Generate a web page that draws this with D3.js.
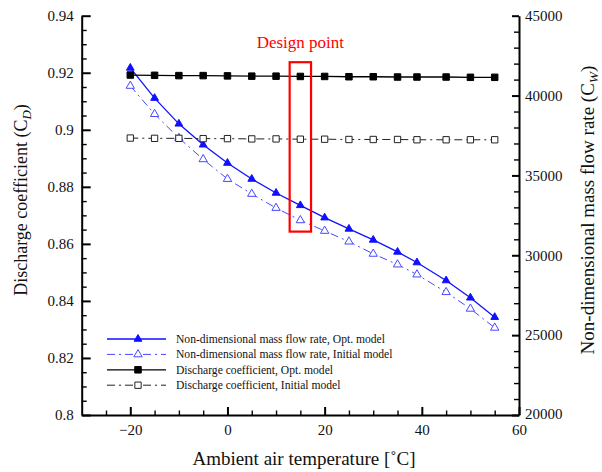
<!DOCTYPE html>
<html>
<head>
<meta charset="utf-8">
<script src="https://cdn.jsdelivr.net/npm/d3@7"></script>
<style>
  body { margin: 0; background: #fff; }
  svg text { font-family: "Liberation Serif", "Tinos", "Times New Roman", "DejaVu Serif", serif; }
</style>
</head>
<body>
<script>
const width = 602;
const height = 472;
const marginTop = 15.7;
const marginRight = 83;
const marginBottom = 57;
const marginLeft = 81.7;
const serif = "'Liberation Serif', 'Tinos', 'Times New Roman', 'DejaVu Serif', serif";

// data
const temps = [-20, -15, -10, -5, 0, 5, 10, 15, 20, 25, 30, 35, 39, 45, 50, 55];
const cdOpt = [0.9192, 0.9191, 0.9190, 0.9190, 0.9189, 0.9188, 0.9188, 0.9187, 0.9187, 0.9186, 0.9186, 0.9185, 0.9185, 0.9185, 0.9184, 0.9184];
const cdInit = [0.8971, 0.8970, 0.8970, 0.8969, 0.8969, 0.8968, 0.8968, 0.8967, 0.8967, 0.8966, 0.8966, 0.8966, 0.8965, 0.8965, 0.8965, 0.8965];
const cwOpt = [41730, 39840, 38230, 36920, 35775, 34775, 33900, 33125, 32355, 31650, 30960, 30210, 29545, 28420, 27340, 26125];
const cwInit = [40605, 38840, 37340, 36010, 34775, 33840, 32960, 32190, 31525, 30855, 30090, 29420, 28795, 27690, 26650, 25460];

const xTicks = [-20, 0, 20, 40, 60];
const cdTicks = [0.8, 0.82, 0.84, 0.86, 0.88, 0.9, 0.92, 0.94];
const cwTicks = [20000, 25000, 30000, 35000, 40000, 45000];

const legendLabels = [
  "Non-dimensional mass flow rate, Opt. model",
  "Non-dimensional mass flow rate, Initial model",
  "Discharge coefficient, Opt. model",
  "Discharge coefficient, Initial model"
];

// design point box in data units
const designBox = {x0: 12.8, x1: 17.2, y0: 0.8643, y1: 0.9237};

const x = d3.scaleLinear().domain([-30, 60]).range([marginLeft, width - marginRight]);
const yL = d3.scaleLinear().domain([0.8, 0.94]).range([height - marginBottom, marginTop]);
const yR = d3.scaleLinear().domain([20000, 45000]).range([height - marginBottom, marginTop]);

const svg = d3.select("body").append("svg")
    .attr("width", width)
    .attr("height", height)
    .attr("font-family", serif);

const dashInit = "8,4,2,4";

const series = [
  {vals: cwOpt, y: yR, color: "#1010ff", dash: null, sym: d3.symbolTriangle, filled: true, size: 26, lw: 1.3},
  {vals: cwInit, y: yR, color: "#4848ff", dash: dashInit, sym: d3.symbolTriangle, filled: false, size: 30, lw: 1},
  {vals: cdOpt, y: yL, color: "#000", dash: null, sym: d3.symbolSquare, filled: true, size: 42, lw: 1.3},
  {vals: cdInit, y: yL, color: "#222", dash: dashInit, sym: d3.symbolSquare, filled: false, size: 40, lw: 1}
];

// axes
const fontTick = 15;

const xAxis = svg.append("g")
    .attr("transform", `translate(0,${height - marginBottom})`)
    .call(d3.axisBottom(x).tickValues(xTicks).tickSizeInner(-8).tickSizeOuter(0).tickPadding(6).tickFormat(d3.format("d")));
svg.append("g")
    .attr("transform", `translate(0,${height - marginBottom})`)
    .call(d3.axisBottom(x).tickValues(d3.range(-25, 60, 5).filter(d => d % 20 !== 0)).tickSize(-4.5).tickFormat(""))
    .call(g => g.select(".domain").remove());

const lAxis = svg.append("g")
    .attr("transform", `translate(${marginLeft},0)`)
    .call(d3.axisLeft(yL).tickValues(cdTicks).tickSizeInner(-9).tickSizeOuter(0).tickPadding(8).tickFormat(d => String(+d.toFixed(2))));
svg.append("g")
    .attr("transform", `translate(${marginLeft},0)`)
    .call(d3.axisLeft(yL).tickValues(d3.range(0.805, 0.94, 0.005).filter((d, i) => (i + 1) % 4 !== 0)).tickSize(-5).tickFormat(""))
    .call(g => g.select(".domain").remove());

const rAxis = svg.append("g")
    .attr("transform", `translate(${width - marginRight},0)`)
    .call(d3.axisRight(yR).tickValues(cwTicks).tickSizeInner(-7).tickSizeOuter(0).tickPadding(6).tickFormat(d3.format("d")));
svg.append("g")
    .attr("transform", `translate(${width - marginRight},0)`)
    .call(d3.axisRight(yR).tickValues(d3.range(21000, 45000, 1000).filter(d => d % 5000 !== 0)).tickSize(-5).tickFormat(""))
    .call(g => g.select(".domain").remove());

svg.selectAll(".tick, .domain").each(function() { d3.select(this.parentNode).attr("font-family", serif); });
svg.selectAll(".domain").attr("stroke", "#000").attr("stroke-width", 2);
svg.selectAll(".tick line").attr("stroke", "#000").attr("stroke-width", 1.4);
svg.selectAll(".tick text")
    .attr("font-size", fontTick)
    .attr("fill", "#111");
xAxis.selectAll(".tick line").attr("stroke-width", 2);
lAxis.selectAll(".tick line").attr("stroke-width", 2);
rAxis.selectAll(".tick line").attr("stroke-width", 2);
// the 60 label sits lower on the original
xAxis.selectAll(".tick text").attr("dy", "0.9em");
rAxis.selectAll(".tick text").filter(d => d === 20000).attr("dy", "0.2em");

// lines + markers
series.forEach(s => {
  const line = d3.line().x((d, i) => x(temps[i])).y(d => s.y(d));
  svg.append("path")
      .datum(s.vals)
      .attr("d", line)
      .attr("fill", "none")
      .attr("stroke", s.color)
      .attr("stroke-width", s.lw)
      .attr("stroke-dasharray", s.dash);
});
series.forEach(s => {
  svg.append("g").selectAll("path")
      .data(s.vals)
      .join("path")
      .attr("transform", (d, i) => `translate(${x(temps[i])},${s.y(d)})`)
      .attr("d", d3.symbol(s.sym, s.size))
      .attr("fill", s.filled ? s.color : "#fff")
      .attr("stroke", s.color)
      .attr("stroke-width", 1);
});

// design point
svg.append("rect")
    .attr("x", x(designBox.x0))
    .attr("y", yL(designBox.y1))
    .attr("width", x(designBox.x1) - x(designBox.x0))
    .attr("height", yL(designBox.y0) - yL(designBox.y1))
    .attr("fill", "none")
    .attr("stroke", "#ff0000")
    .attr("stroke-width", 2.2);
svg.append("text")
    .attr("x", x((designBox.x0 + designBox.x1) / 2))
    .attr("y", 48)
    .attr("text-anchor", "middle")
    .attr("font-size", 17)
    .attr("fill", "#ff0000")
    .text("Design point");

// legend
const legend = svg.append("g").attr("transform", "translate(107,339)");
series.forEach((s, i) => {
  const row = legend.append("g").attr("transform", `translate(0,${i * 15.4})`);
  row.append("line")
      .attr("x1", 0).attr("x2", 59)
      .attr("stroke", s.color)
      .attr("stroke-width", s.lw)
      .attr("stroke-dasharray", s.dash);
  row.append("path")
      .attr("transform", "translate(31,0)")
      .attr("d", d3.symbol(s.sym, s.size))
      .attr("fill", s.filled ? s.color : "#fff")
      .attr("stroke", s.color)
      .attr("stroke-width", 1);
  row.append("text")
      .attr("x", 69)
      .attr("y", 4)
      .attr("font-size", 11.6)
      .attr("fill", "#111")
      .text(legendLabels[i]);
});

// axis titles
svg.append("text")
    .attr("x", 304)
    .attr("y", 465)
    .attr("text-anchor", "middle")
    .attr("font-size", 19)
    .attr("fill", "#111")
    .text("Ambient air temperature [˚C]");

const yt = svg.append("text")
    .attr("transform", "translate(26.5,200) rotate(-90)")
    .attr("text-anchor", "middle")
    .attr("font-size", 18)
    .attr("fill", "#111");
yt.append("tspan").text("Discharge coefficient (C");
yt.append("tspan").attr("font-size", 13).attr("font-style", "italic").attr("dy", 4).text("D");
yt.append("tspan").attr("dy", -4).text(")");

const yr = svg.append("text")
    .attr("transform", "translate(594,210) rotate(-90)")
    .attr("text-anchor", "middle")
    .attr("font-size", 19)
    .attr("fill", "#111");
yr.append("tspan").text("Non-dimensional mass flow rate (C");
yr.append("tspan").attr("font-size", 13.5).attr("font-style", "italic").attr("dy", 3.5).text("W");
yr.append("tspan").attr("dy", -3.5).text(")");
</script>
</body>
</html>
